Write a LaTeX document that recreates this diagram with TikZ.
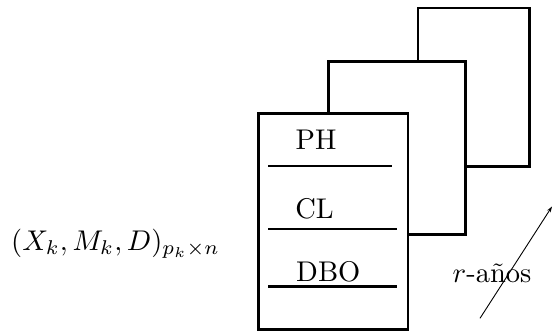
\documentclass[tikz,border=0pt]{standalone}
\usetikzlibrary{arrows.meta}
\begin{document}
\begin{tikzpicture}[x=1pt,y=-1pt,
  sheet/.style={draw,line width=2.6pt,fill=white,inner sep=0pt,anchor=north west},
  rule/.style={line width=2.2pt},
  lbl/.style={inner sep=0pt,anchor=base}]
\newcommand{\bigtxt}[1]{\scalebox{2.85}{#1}}
\useasboundingbox (0,0) rectangle (553,330);
\node[sheet,minimum width=111.6pt,minimum height=158.3pt] (back) at (416.7,6.7) {};
\node[sheet,minimum width=137pt,minimum height=173.3pt] (mid) at (327.3,60) {};
\node[sheet,minimum width=149.4pt,minimum height=216pt] (front) at (257.3,112.3) {};
\coordinate (l1a) at (268.3,165.7); \coordinate (l1b) at (391.7,165.7);
\coordinate (l2a) at (268.3,229); \coordinate (l2b) at (397.3,229);
\coordinate (l3a) at (268.3,286.7); \coordinate (l3b) at (397.3,286.7);
\draw[rule] (l1a) -- (l1b);
\draw[rule] (l2a) -- (l2b);
\draw[rule,line width=3pt] (l3a) -- (l3b);
\node[lbl] (ph) at (316,149.3) {\bigtxt{PH}};
\node[lbl] (cl) at (314.5,218.3) {\bigtxt{CL}};
\node[lbl] (dbo) at (328.3,281) {\bigtxt{DBO}};
\node[lbl,anchor=base west] (mat) at (11,250) {\bigtxt{$(X_k, M_k, D)_{p_k\times n}$}};
\coordinate (as) at (480,318.3);
\coordinate (ae) at (552,206.5);
\draw[line width=0.9pt,-{Stealth[length=6pt,width=4pt]}] (as) -- (ae);
\node[lbl] (yrs) at (492,282.3) {\bigtxt{$r$-años}};
\end{tikzpicture}
\end{document}
